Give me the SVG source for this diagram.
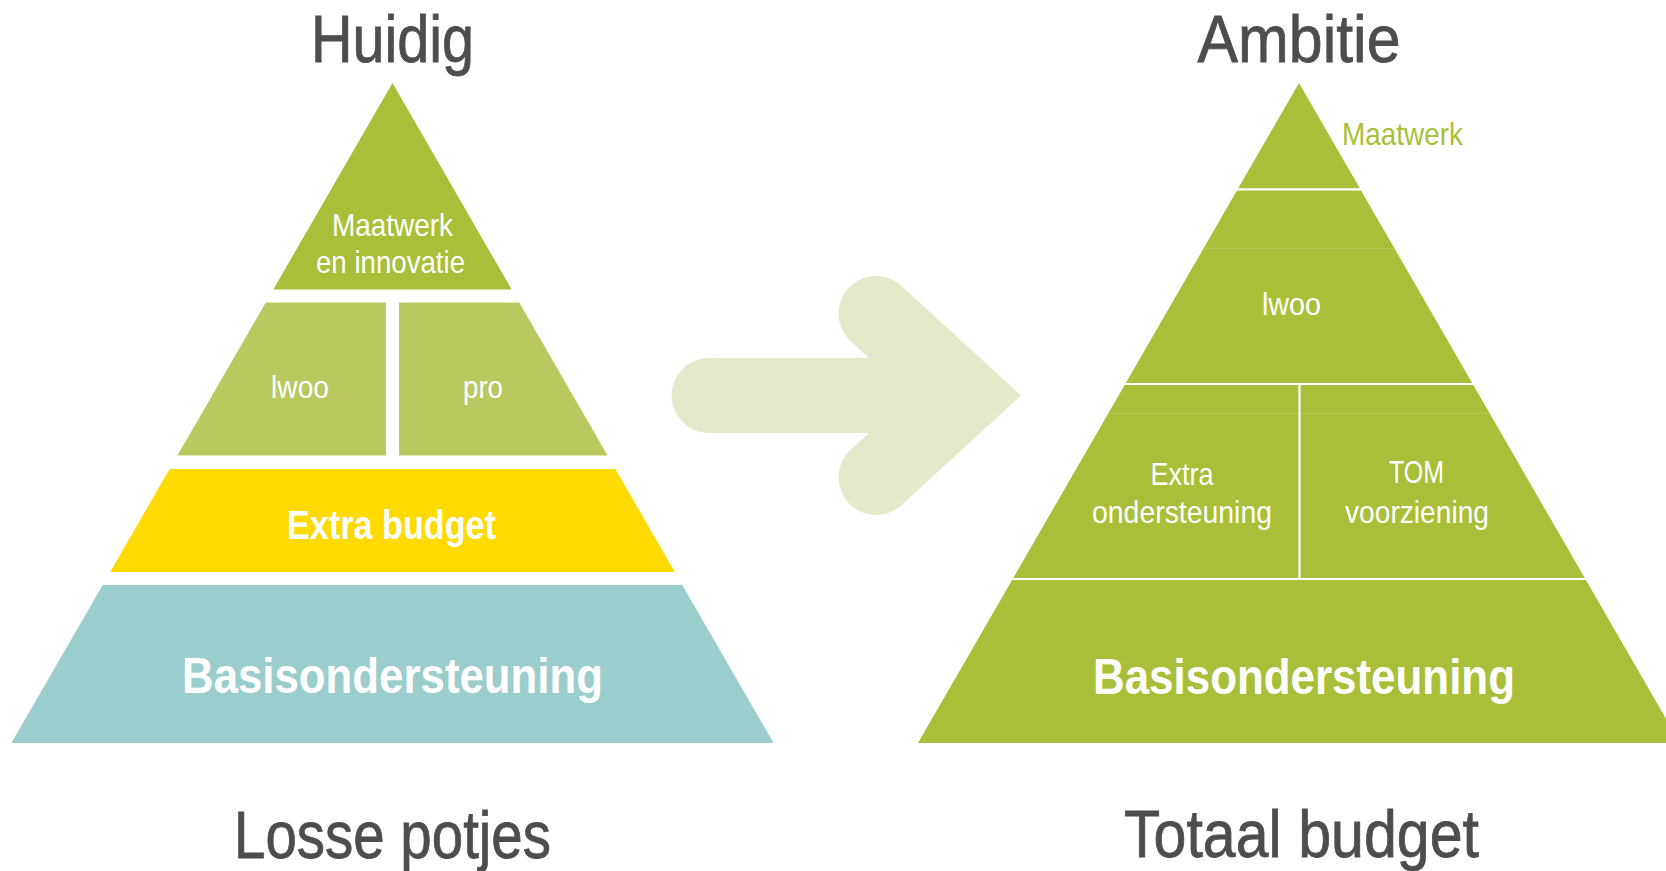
<svg xmlns="http://www.w3.org/2000/svg" width="1666" height="871" viewBox="0 0 1666 871">
  <style>
    .t { font-family: "Liberation Sans", Arial, sans-serif; text-anchor: middle; }
    .title { font-size: 67px; fill: #4D4D4D; stroke: #4D4D4D; stroke-width: 0.8px; }
    .lbl { font-size: 32px; fill: #FFFFFF; }
    .big { font-weight: bold; fill: #FFFFFF; }
    .olive { fill: #A9BF39; }
    .light { fill: #B9C960; }
    .yellow { fill: #FFDA00; }
    .teal { fill: #9ACDCC; }
    .sep { stroke: #FFFFFF; stroke-width: 2.2; }
    .seam { stroke: #B7CB5C; stroke-width: 1; }
  </style>
  <rect width="1666" height="871" fill="#FFFFFF"/>

  <!-- Titles -->
  <g id="title-huidig"><text class="t title" x="392.5" y="62" textLength="163" lengthAdjust="spacingAndGlyphs">Huidig</text></g>
  <g id="title-ambitie"><text class="t title" x="1299" y="62" textLength="203" lengthAdjust="spacingAndGlyphs">Ambitie</text></g>
  <g id="caption-losse"><text class="t title" x="392.5" y="858" textLength="317" lengthAdjust="spacingAndGlyphs">Losse potjes</text></g>
  <g id="caption-totaal"><text class="t title" x="1301.5" y="857" textLength="355" lengthAdjust="spacingAndGlyphs">Totaal budget</text></g>

  <!-- Left pyramid -->
  <g id="left-maatwerk">
    <polygon class="olive" points="392.5,83 511.7,289.5 273.3,289.5"/>
    <text class="t lbl" x="392.5" y="236" textLength="121" lengthAdjust="spacingAndGlyphs">Maatwerk</text>
    <text class="t lbl" x="390.5" y="273" textLength="149" lengthAdjust="spacingAndGlyphs">en innovatie</text>
  </g>
  <g id="left-lwoo">
    <polygon class="light" points="265.8,302.5 386,302.5 386,455.5 177.4,455.5"/>
    <text class="t lbl" x="300" y="398" textLength="58" lengthAdjust="spacingAndGlyphs">lwoo</text>
  </g>
  <g id="left-pro">
    <polygon class="light" points="399,302.5 519.2,302.5 607.6,455.5 399,455.5"/>
    <text class="t lbl" x="483" y="398" textLength="40" lengthAdjust="spacingAndGlyphs">pro</text>
  </g>
  <g id="left-extra-budget">
    <polygon class="yellow" points="169.6,469 615.4,469 674.8,572 110.2,572"/>
    <text class="t big" x="391.5" y="539" font-size="40" textLength="209" lengthAdjust="spacingAndGlyphs">Extra budget</text>
  </g>
  <g id="left-basis">
    <polygon class="teal" points="102.7,585 682.3,585 773.6,743 11.4,743"/>
    <text class="t big" x="392.5" y="693" font-size="50" textLength="421" lengthAdjust="spacingAndGlyphs">Basisondersteuning</text>
  </g>

  <!-- Arrow -->
  <g id="arrow" fill="none" stroke="#E4E9C9" stroke-width="75" stroke-linecap="round" stroke-linejoin="miter">
    <path d="M 709 395.5 H 955"/>
    <path d="M 876 313.5 L 965.5 395.5 L 876 477.5"/>
  </g>

  <!-- Right pyramid -->
  <g id="right-pyramid">
    <polygon class="olive" points="1299,83 1680,743 918,743"/>
  </g>
  <g id="connectors">
    <line class="seam" x1="1203.5" y1="248.7" x2="1394.5" y2="248.7"/>
    <line class="seam" x1="1108.5" y1="413.3" x2="1489.5" y2="413.3"/>
    <line class="sep" x1="1236.5" y1="189.3" x2="1361.5" y2="189.3"/>
    <line class="sep" x1="1124" y1="384" x2="1474" y2="384"/>
    <line class="sep" x1="1299.5" y1="384" x2="1299.5" y2="579"/>
    <line class="sep" x1="1011.5" y1="579" x2="1586.5" y2="579"/>
  </g>
  <g id="right-maatwerk">
    <text class="t" x="1402.5" y="145" font-size="32" fill="#A9BF39" textLength="121" lengthAdjust="spacingAndGlyphs">Maatwerk</text>
  </g>
  <g id="right-lwoo">
    <text class="t lbl" x="1291.5" y="315" textLength="59" lengthAdjust="spacingAndGlyphs">lwoo</text>
  </g>
  <g id="right-extra">
    <text class="t lbl" x="1182" y="485" textLength="63" lengthAdjust="spacingAndGlyphs">Extra</text>
    <text class="t lbl" x="1182" y="523" textLength="180" lengthAdjust="spacingAndGlyphs">ondersteuning</text>
  </g>
  <g id="right-tom">
    <text class="t lbl" x="1416.5" y="483" textLength="55" lengthAdjust="spacingAndGlyphs">TOM</text>
    <text class="t lbl" x="1417" y="523" textLength="144" lengthAdjust="spacingAndGlyphs">voorziening</text>
  </g>
  <g id="right-basis">
    <text class="t big" x="1304" y="694" font-size="50" textLength="422" lengthAdjust="spacingAndGlyphs">Basisondersteuning</text>
  </g>
</svg>
